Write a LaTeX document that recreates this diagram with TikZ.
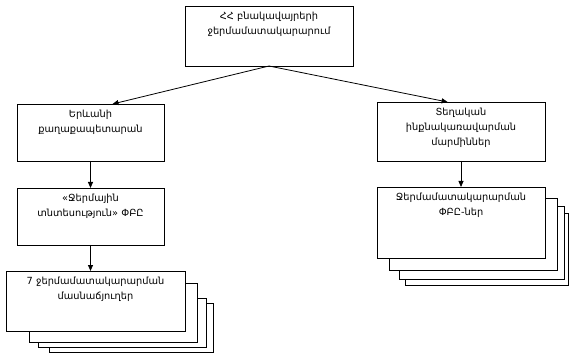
\documentclass[tikz,border=0pt]{standalone}
\usepackage{fontspec}
\setmainfont{DejaVu Sans}
\usetikzlibrary{arrows.meta,calc}
\tikzset{
  boxst/.style={draw,line width=0.8pt,fill=white,inner sep=0pt,outer sep=0pt},
  txt/.style={align=center,font=\fontsize{9.8}{15}\selectfont,anchor=north,inner sep=0pt},
  arr/.style={line width=0.8pt,-{Triangle[length=6pt,width=5pt]}}
}
\begin{document}
\begin{tikzpicture}[x=1pt,y=-1pt]
\useasboundingbox (0,0) rectangle (581,358);
% top
\node[boxst,minimum width=168pt,minimum height=60pt] (top) at (269,36) {};
\node[txt] (ttop) at (269,11.5) {ՀՀ բնակավայրերի\\ջերմամատակարարում};
% left column
\node[boxst,minimum width=147pt,minimum height=57pt] (l1) at (90.5,132.5) {};
\node[txt] (tl1) at (90.5,109.5) {Երևանի\\քաղաքապետարան};
\node[boxst,minimum width=147pt,minimum height=57pt] (l2) at (90.5,216.5) {};
\node[txt] (tl2) at (90.5,193.5) {«Ջերմային\\տնտեսություն» ՓԲԸ};
% left stack
\node[boxst,minimum width=164pt,minimum height=49pt] (ls4) at (131,327.5) {};
\node[boxst,minimum width=168pt,minimum height=49pt] (ls3) at (122,322.5) {};
\node[boxst,minimum width=168pt,minimum height=59pt] (ls2) at (113,312.5) {};
\node[boxst,minimum width=179pt,minimum height=60pt] (ls1) at (95.5,301) {};
\node[txt] (tls) at (95.5,276.5) {7 ջերմամատակարարման\\մասնաճյուղեր};
% right column
\node[boxst,minimum width=168pt,minimum height=59pt] (r1) at (461,131.5) {};
\node[txt] (tr1) at (461,107.5) {Տեղական\\ինքնակառավարման\\մարմիններ};
% right stack
\node[boxst,minimum width=163pt,minimum height=72pt] (rs4) at (486.5,249) {};
\node[boxst,minimum width=165pt,minimum height=73pt] (rs3) at (481.5,242.5) {};
\node[boxst,minimum width=168pt,minimum height=72pt] (rs2) at (473,234) {};
\node[boxst,minimum width=168pt,minimum height=71pt] (rs1) at (461,222.5) {};
\node[txt] (trs) at (461,192.5) {Ջերմամատակարարման\\ՓԲԸ-ներ};
% connectors
\draw[arr] (top.south) -- ($(l1.north west)!0.65!(l1.north east)$);
\draw[arr] (top.south) -- ($(r1.north west)!0.42!(r1.north east)$);
\draw[arr] (l1.south) -- (l2.north);
\draw[arr] (l2.south) -- (l2.south |- ls1.north);
\draw[arr] (r1.south) -- (rs1.north);
\end{tikzpicture}
\end{document}
